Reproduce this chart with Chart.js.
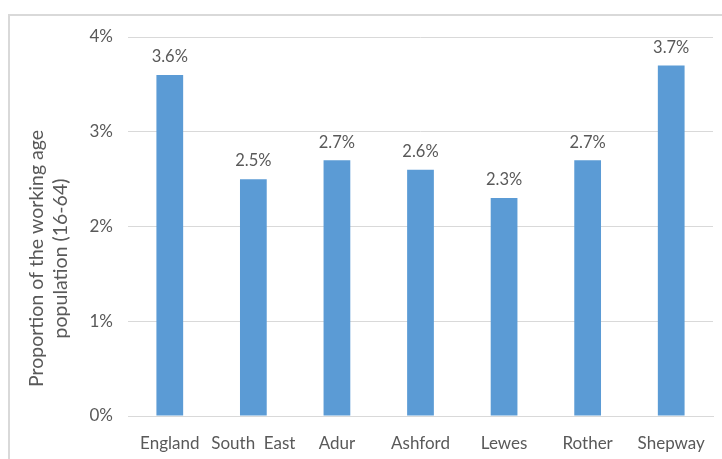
<!DOCTYPE html>
<html>
<head>
<meta charset="utf-8">
<script src="https://cdn.jsdelivr.net/npm/chart.js@4"></script>
<style>
  html, body { margin: 0; padding: 0; background: #fff; }
  #wrap { position: relative; width: 722px; height: 459px; }
  #frame { position: absolute; left: 8px; top: 14px; width: 730px; height: 460px; border: 2px solid #d9d9d9; box-sizing: border-box; }
  canvas { position: absolute; left: 0; top: 0; }
</style>
</head>
<body>
<div id="wrap">
  <div id="frame"></div>
  <canvas id="chart" width="722" height="459"></canvas>
</div>
<script>
const categories = ["England", "South  East", "Adur", "Ashford", "Lewes", "Rother", "Shepway"];
const values = [3.6, 2.5, 2.7, 2.6, 2.3, 2.7, 3.7];
const yTicks = [0, 1, 2, 3, 4];
const yTitle = ["Proportion of the working age", "population (16-64)"];

const FONT = "Lato, 'Open Sans', sans-serif";
const GREY = "#595959";

// value labels above each bar
const barLabels = {
  id: "barLabels",
  afterDatasetsDraw(chart) {
    const ctx = chart.ctx;
    const meta = chart.getDatasetMeta(0);
    ctx.save();
    ctx.font = "16.5px " + FONT;
    ctx.fillStyle = GREY;
    ctx.textAlign = "center";
    ctx.textBaseline = "middle";
    meta.data.forEach((bar, i) => {
      ctx.fillText(values[i].toFixed(1) + "%", bar.x, bar.y - 18);
    });
    ctx.restore();
  }
};

// y axis title, two lines
const axisTitle = {
  id: "axisTitle",
  afterDraw(chart) {
    const ctx = chart.ctx;
    const mid = (chart.chartArea.top + chart.chartArea.bottom) / 2 + 32;
    ctx.save();
    ctx.font = "19.5px " + FONT;
    ctx.fillStyle = GREY;
    ctx.textAlign = "center";
    ctx.textBaseline = "middle";
    [37, 61].forEach((x, i) => {
      ctx.save();
      ctx.translate(x, mid);
      ctx.rotate(-Math.PI / 2);
      ctx.fillText(yTitle[i], 0, 0);
      ctx.restore();
    });
    ctx.restore();
  }
};

new Chart(document.getElementById("chart"), {
  type: "bar",
  data: {
    labels: categories,
    datasets: [{
      data: values,
      backgroundColor: "#5b9bd5",
      categoryPercentage: 1,
      barPercentage: 0.32
    }]
  },
  options: {
    responsive: false,
    animation: false,
    layout: { padding: { top: 37, right: 9, left: 0, bottom: 0 } },
    plugins: { legend: { display: false }, tooltip: { enabled: false } },
    scales: {
      x: {
        grid: { display: false },
        border: { color: "#d9d9d9" },
        ticks: { color: GREY, font: { family: FONT, size: 17 }, padding: 9, maxRotation: 0, autoSkip: false },
        afterFit(s) { s.height = 43; }
      },
      y: {
        min: 0,
        max: 4,
        afterBuildTicks(s) { s.ticks = yTicks.map(v => ({ value: v })); },
        grid: { color: "#d9d9d9", drawTicks: false },
        border: { display: false },
        ticks: { color: GREY, font: { family: FONT, size: 17 }, padding: 15, callback: v => v + "%" },
        afterFit(s) { s.width = 128; }
      }
    }
  },
  plugins: [barLabels, axisTitle]
});
</script>
</body>
</html>
